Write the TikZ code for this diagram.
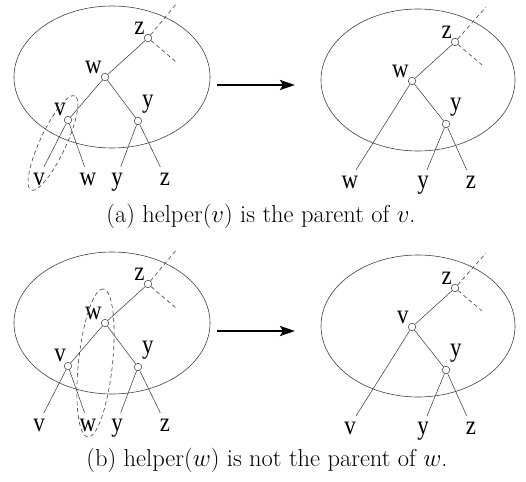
\documentclass[tikz,border=0pt]{standalone}
\usepackage{fontspec}
\newfontfamily\tfont[FakeStretch=0.85]{Liberation Serif}
\usetikzlibrary{arrows.meta}

\tikzset{
  vtx/.style={circle,draw=black!80,line width=.5pt,inner sep=0pt,minimum size=7.5pt},
  lab/.style={font=\tfont\fontsize{27}{27}\selectfont,inner sep=1pt},
  leaf/.style={lab,anchor=base,text height=17pt,text depth=0pt},
  edge/.style={draw=black!80,line width=.5pt},
  oval/.style={draw=black!75,line width=.6pt},
  hl/.style={draw=black!75,line width=.6pt,dash pattern=on 4pt off 3pt},
  trans/.style={line width=2.6pt,-{Stealth[length=15pt,width=10pt,inset=3pt]}},
  captext/.style={font=\fontsize{24.5}{29}\selectfont}
}

\begin{document}
\begin{tikzpicture}[x=1pt,y=-1pt]
    \useasboundingbox (0,0) rectangle (526,481);
    % beide Zeilen: links vorher, rechts nachher
    \foreach \r/\dy/\m in {a/0/w,b/246/v}{
      \begin{scope}[yshift=-\dy pt]
        % vorher
        \draw[oval] (112,77) ellipse [x radius=98pt,y radius=71pt];
        \node[vtx,label={[lab,label distance=-1pt]135:z}] (\r z) at (148,38) {};
        \node[vtx,label={[lab,label distance=-1pt]135:w}] (\r w) at (105,77) {};
        \node[vtx,label={[lab,label distance=-1pt]110:v}] (\r v) at (68,120) {};
        \node[vtx,label={[lab,label distance=3pt]65:y}] (\r y) at (138,121) {};
        \node[leaf] (\r lv) at (39,185) {v};
        \node[leaf] (\r lw) at (88,185) {w};
        \node[leaf] (\r ly) at (117,185) {y};
        \node[leaf] (\r lz) at (165,185) {z};
        \coordinate (\r zu) at (177,3);
        \coordinate (\r zd) at (176,62);
        \draw[edge] (\r z) -- (\r w);
        \draw[edge] (\r w) -- (\r v);
        \draw[edge] (\r w) -- (\r y);
        \draw[edge] (\r v) -- (\r lv);
        \draw[edge] (\r v) -- (\r lw);
        \draw[edge] (\r y) -- (\r ly);
        \draw[edge] (\r y) -- (\r lz);
        \draw[hl] (\r z) -- (\r zu);
        \draw[hl] (\r z) -- (\r zd);
        % Pfeil
        \coordinate (\r as) at (217,85);
        \coordinate (\r ae) at (295,85);
        \draw[trans] (\r as) -- (\r ae);
        % nachher
        \draw[oval] (418,80) ellipse [x radius=97pt,y radius=71pt];
        \node[vtx,label={[lab,label distance=-1pt]135:z}] (\r rz) at (455,42) {};
        \node[vtx,label={[lab,label distance=-1pt]135:\m}] (\r rw) at (412,81) {};
        \node[vtx,label={[lab,label distance=3pt]65:y}] (\r ry) at (446,124) {};
        \node[leaf] (\r rlw) at (350,188) {\m};
        \node[leaf] (\r rly) at (423,188) {y};
        \node[leaf] (\r rlz) at (471,188) {z};
        \coordinate (\r rzu) at (486,7);
        \coordinate (\r rzd) at (482,65);
        \draw[edge] (\r rz) -- (\r rw);
        \draw[edge] (\r rw) -- (\r ry);
        \draw[edge] (\r rw) -- (\r rlw);
        \draw[edge] (\r ry) -- (\r rly);
        \draw[edge] (\r ry) -- (\r rlz);
        \draw[hl] (\r rz) -- (\r rzu);
        \draw[hl] (\r rz) -- (\r rzd);
      \end{scope}
    }
    % helper-Markierungen
    \draw[hl,rotate around={65:(53,143)}] (53,143) ellipse [x radius=52pt,y radius=13pt];
    \draw[hl,rotate around={84:(95.5,363)}] (95.5,363) ellipse [x radius=74.5pt,y radius=17pt];
    % Unterschriften
    \node[captext] (capa) at (261,216) {(a) helper($v$) is the parent of $v$.};
    \node[captext] (capb) at (267,460) {(b) helper($w$) is not the parent of $w$.};
\end{tikzpicture}
\end{document}
